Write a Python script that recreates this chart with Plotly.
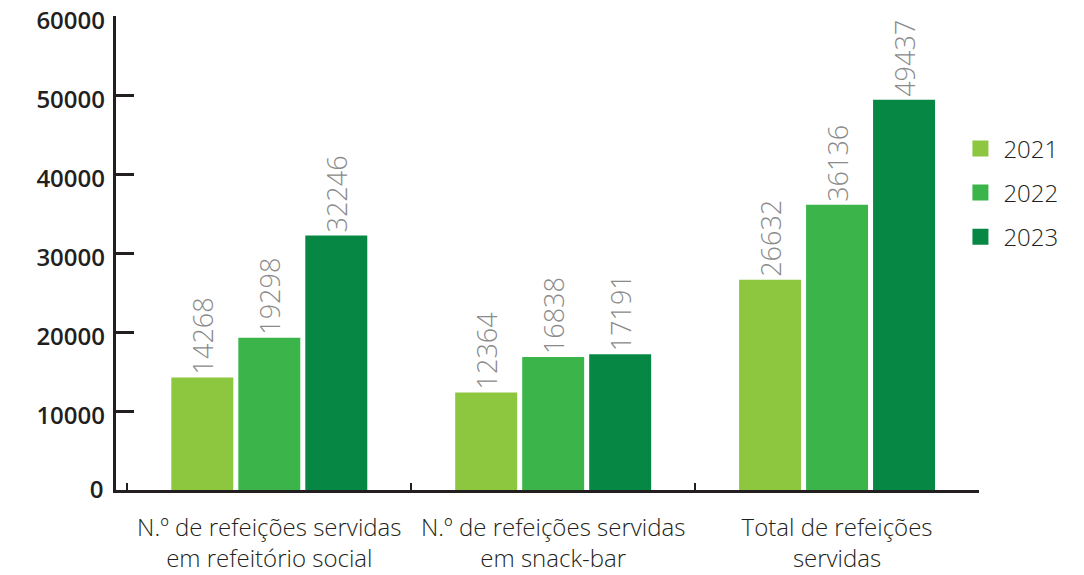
import plotly.graph_objects as go

categories = ["N.º de refeições servidas<br>em refeitório social",
              "N.º de refeições servidas<br>em snack-bar",
              "Total de refeições<br>servidas"]
years = ["2021", "2022", "2023"]
values_2021 = [14268, 12364, 26632]
values_2022 = [19298, 16838, 36136]
values_2023 = [32246, 17191, 49437]
colors = ["#8dc63f", "#3bb54a", "#078744"]
y_ticks = [0, 10000, 20000, 30000, 40000, 50000, 60000]

Y_MAX = 60060
LABEL_SHIFT = 570  # moves y tick labels ~4-5 px below their tick marks

series = [values_2021, values_2022, values_2023]
fig = go.Figure()
for yr, vals, col in zip(years, series, colors):
    fig.add_trace(go.Bar(
        x=categories, y=vals, name=yr, marker=dict(color=col, line=dict(width=0)),
        text=[str(v) for v in vals], textposition="outside", textangle=-90,
        constraintext="none",
        textfont=dict(family="Open Sans", size=27, color="#8a8a8a", weight=300),
        cliponaxis=False, showlegend=False))
    fig.add_trace(go.Scatter(
        x=[None], y=[None], mode="markers", name=yr, legendgroup=yr,
        marker=dict(symbol="square", size=20, color=col)))

# invisible helper so the label-only axis is drawn
fig.add_trace(go.Scatter(x=[None], y=[None], yaxis="y2", showlegend=False,
                         hoverinfo="skip"))

tick_font = dict(family="Open Sans", size=24, color="#231f20", weight=600)
fig.update_layout(
    width=1084, height=575,
    margin=dict(l=108, r=113, t=8, b=93, autoexpand=False),
    paper_bgcolor="white", plot_bgcolor="white",
    barmode="group", bargap=0.292, bargroupgap=0.075,
    showlegend=True,
    legend=dict(x=0.975, xanchor="left", y=0.627, yanchor="middle",
                font=dict(family="Open Sans", size=24, color="#231f20", weight=300),
                itemsizing="trace", itemwidth=36, tracegroupgap=10),
    font=dict(family="Open Sans"),
    yaxis=dict(range=[0, Y_MAX], tickvals=y_ticks,
               ticktext=[str(v) if v == 0 else "" for v in y_ticks],
               automargin=False, ticklabeloverflow="allow",
               tickfont=tick_font, ticklabelstandoff=5,
               ticks="inside", ticklen=18, tickwidth=2.5, tickcolor="#231f20",
               showline=True, linewidth=2.5, linecolor="#231f20",
               showgrid=False, zeroline=False),
    yaxis2=dict(overlaying="y", anchor="x", side="left",
                range=[LABEL_SHIFT, Y_MAX + LABEL_SHIFT],
                tickvals=[v for v in y_ticks if v > 0],
                tickformat="d", automargin=False, ticklabeloverflow="allow",
                ticks="", showline=False, showgrid=False, zeroline=False,
                tickfont=tick_font, ticklabelstandoff=10),
)
fig.update_xaxes(range=[-0.54, 2.5], tickson="boundaries", ticks="inside", ticklen=7,
                 tickwidth=2, tickcolor="#231f20", automargin=False,
                 ticklabeloverflow="allow",
                 showline=True, linewidth=2.5, linecolor="#231f20", showgrid=False,
                 tickfont=dict(family="Open Sans", size=24, color="#231f20", weight=300),
                 ticklabelstandoff=14)

fig.write_html("out.html")
